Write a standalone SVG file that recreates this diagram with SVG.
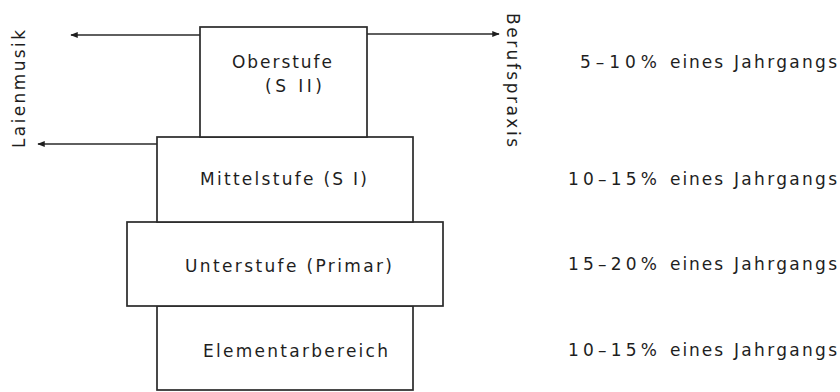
<svg xmlns="http://www.w3.org/2000/svg" width="840" height="392" viewBox="0 0 840 392">
<style>
.box{fill:#fff;stroke:#2a2a2a;stroke-width:1.7}
.lbl{font-family:"DejaVu Sans","Liberation Sans",Arial,sans-serif;font-size:17px;fill:#1e1e1e}
.side{font-family:"DejaVu Sans","Liberation Sans",Arial,sans-serif;font-size:17px;fill:#1e1e1e}
.pct{font-family:"DejaVu Sans","Liberation Sans",Arial,sans-serif;font-size:17px;fill:#1e1e1e}
.con{stroke:#2a2a2a;stroke-width:1.6;fill:none;marker-end:url(#ah)}
</style>
<defs>
<marker id="ah" viewBox="0 0 10 8" refX="9" refY="4" markerWidth="8" markerHeight="6" markerUnits="userSpaceOnUse" orient="auto">
<path d="M0,0 L10,4 L0,8 Z" fill="#1e1e1e"/>
</marker>
</defs>
<rect width="840" height="392" fill="#fff"/>
<g id="elementarbereich">
<rect class="box" x="157" y="306" width="256" height="84"/>
<text class="lbl" x="203" y="357" textLength="185" lengthAdjust="spacing">Elementarbereich</text>
</g>
<g id="unterstufe">
<rect class="box" x="127" y="222" width="316" height="84"/>
<text class="lbl" x="185" y="272" textLength="207" lengthAdjust="spacing">Unterstufe (Primar)</text>
</g>
<g id="mittelstufe">
<rect class="box" x="157" y="137" width="256" height="85"/>
<text class="lbl" x="200" y="185" textLength="167" lengthAdjust="spacing">Mittelstufe (S I)</text>
</g>
<g id="oberstufe">
<rect class="box" x="200" y="27" width="167" height="110"/>
<text class="lbl" x="232" y="68" textLength="100" lengthAdjust="spacing">Oberstufe</text>
<text class="lbl" x="265" y="92" textLength="57" lengthAdjust="spacing">(S II)</text>
</g>
<g id="laienmusik">
<text class="side" transform="translate(25,89) rotate(-90)" text-anchor="middle" textLength="118" lengthAdjust="spacing">Laienmusik</text>
</g>
<g id="berufspraxis">
<text class="side" transform="translate(507,80) rotate(90)" text-anchor="middle" textLength="134" lengthAdjust="spacing">Berufspraxis</text>
</g>
<g id="connectors">
<line class="con" x1="200" y1="35" x2="71" y2="35"/>
<line class="con" x1="367" y1="34" x2="499" y2="34"/>
<line class="con" x1="157" y1="144" x2="38" y2="144"/>
</g>
<g id="anteile">
<text class="pct"><tspan x="580" y="68" textLength="77" lengthAdjust="spacing">5–10%</tspan><tspan x="670" y="68" textLength="53" lengthAdjust="spacing">eines</tspan><tspan x="734" y="68" textLength="103" lengthAdjust="spacing">Jahrgangs</tspan></text>
<text class="pct"><tspan x="568" y="185" textLength="89" lengthAdjust="spacing">10–15%</tspan><tspan x="670" y="185" textLength="53" lengthAdjust="spacing">eines</tspan><tspan x="734" y="185" textLength="103" lengthAdjust="spacing">Jahrgangs</tspan></text>
<text class="pct"><tspan x="568" y="270" textLength="89" lengthAdjust="spacing">15–20%</tspan><tspan x="670" y="270" textLength="53" lengthAdjust="spacing">eines</tspan><tspan x="734" y="270" textLength="103" lengthAdjust="spacing">Jahrgangs</tspan></text>
<text class="pct"><tspan x="568" y="356" textLength="89" lengthAdjust="spacing">10–15%</tspan><tspan x="670" y="356" textLength="53" lengthAdjust="spacing">eines</tspan><tspan x="734" y="356" textLength="103" lengthAdjust="spacing">Jahrgangs</tspan></text>
</g>
</svg>
